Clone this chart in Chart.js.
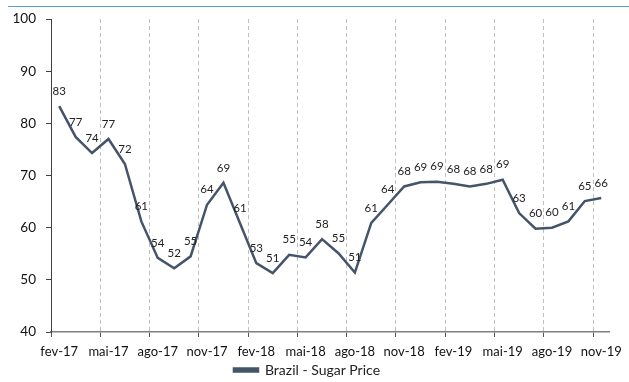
<!DOCTYPE html>
<html>
<head>
<meta charset="utf-8">
<script src="https://cdn.jsdelivr.net/npm/chart.js@4.4.1/dist/chart.umd.min.js"></script>
<style>
  html, body { margin: 0; padding: 0; background: #ffffff; }
  #wrap { width: 629px; height: 382px; position: relative; }
</style>
</head>
<body>
<div id="wrap"><canvas id="chart"></canvas></div>
<script>
// Monthly categories, Feb 2017 – Nov 2019
const months = [
  'fev-17','mar-17','abr-17','mai-17','jun-17','jul-17','ago-17','set-17','out-17','nov-17','dez-17',
  'jan-18','fev-18','mar-18','abr-18','mai-18','jun-18','jul-18','ago-18','set-18','out-18','nov-18','dez-18',
  'jan-19','fev-19','mar-19','abr-19','mai-19','jun-19','jul-19','ago-19','set-19','out-19','nov-19'
];

// Brazil sugar price per month
const sugarPrice = [
  83.3, 77.4, 74.3, 77.0, 72.2, 61.2, 54.2, 52.2, 54.5, 64.4, 68.6,
  60.9, 53.2, 51.3, 54.8, 54.3, 57.8, 55.1, 51.4, 60.9, 64.4, 67.9, 68.7,
  68.8, 68.4, 67.9, 68.4, 69.2, 62.8, 59.8, 60.0, 61.2, 65.1, 65.7
];

const seriesName = 'Brazil - Sugar Price';
const yMin = 40, yMax = 100, yStep = 10;
const labelEvery = 3;

const LINE = '#44546A';
const FONT = 'Lato, "Open Sans", sans-serif';

// Thin blue rule across the top of the canvas
const headerRule = {
  id: 'headerRule',
  beforeDraw(chart) {
    const ctx = chart.ctx;
    ctx.save();
    ctx.fillStyle = '#ffffff';
    ctx.fillRect(0, 0, chart.width, chart.height);
    ctx.strokeStyle = '#5B9BD5';
    ctx.lineWidth = 1.2;
    ctx.beginPath();
    ctx.moveTo(8, 6.5);
    ctx.lineTo(chart.width, 6.5);
    ctx.stroke();
    ctx.restore();
  }
};

// Value labels drawn above each point
const pointLabels = {
  id: 'pointLabels',
  afterDatasetsDraw(chart) {
    const ctx = chart.ctx;
    const meta = chart.getDatasetMeta(0);
    const data = chart.data.datasets[0].data;
    ctx.save();
    ctx.font = '11.5px ' + FONT;
    ctx.fillStyle = '#222222';
    ctx.textAlign = 'center';
    ctx.textBaseline = 'middle';
    meta.data.forEach((pt, i) => {
      ctx.fillText(String(Math.round(data[i])), pt.x, pt.y - 15);
    });
    ctx.restore();
  }
};

new Chart(document.getElementById('chart'), {
  type: 'line',
  data: {
    labels: months,
    datasets: [{
      label: seriesName,
      data: sugarPrice,
      borderColor: LINE,
      backgroundColor: LINE,
      borderWidth: 2.5,
      pointRadius: 0,
      tension: 0,
      fill: false
    }]
  },
  options: {
    responsive: true,
    maintainAspectRatio: false,
    animation: false,
    devicePixelRatio: 1,
    layout: { padding: { left: 0, right: 15, top: 19, bottom: -5 } },
    plugins: {
      tooltip: { enabled: false },
      legend: {
        position: 'bottom',
        labels: {
          boxWidth: 24,
          boxHeight: 3,
          padding: 2,
          color: '#222222',
          font: { family: FONT, size: 14 }
        }
      }
    },
    scales: {
      x: {
        type: 'category',
        offset: true,
        grid: {
          offset: true,
          drawOnChartArea: true,
          drawTicks: true,
          tickLength: 5,
          lineWidth: 1,
          color: (c) => (c.index > 0 && c.index % labelEvery === 0) ? '#bfbfbf' : 'rgba(0,0,0,0)',
          tickColor: (c) => (c.index % labelEvery === 0 && c.index < months.length) ? '#595959' : 'rgba(0,0,0,0)',
          tickWidth: 1
        },
        border: { display: true, color: '#808080', width: 1.5, dash: [4, 3] },
        ticks: {
          autoSkip: false,
          maxRotation: 0,
          minRotation: 0,
          padding: 7,
          color: '#111111',
          font: { family: FONT, size: 13 },
          callback: (v, i) => (i % labelEvery === 0) ? months[i] : ''
        },
        afterFit: (s) => { s.height = 29; }
      },
      y: {
        min: yMin,
        max: yMax,
        grid: {
          drawOnChartArea: false,
          drawTicks: true,
          tickLength: 5,
          tickColor: '#404040'
        },
        border: { display: true, color: '#404040', width: 1 },
        ticks: {
          stepSize: yStep,
          padding: 10,
          color: '#111111',
          font: { family: FONT, size: 13.5 }
        },
        afterFit: (s) => { s.width = 51; }
      }
    }
  },
  plugins: [headerRule, pointLabels]
});
</script>
</body>
</html>
